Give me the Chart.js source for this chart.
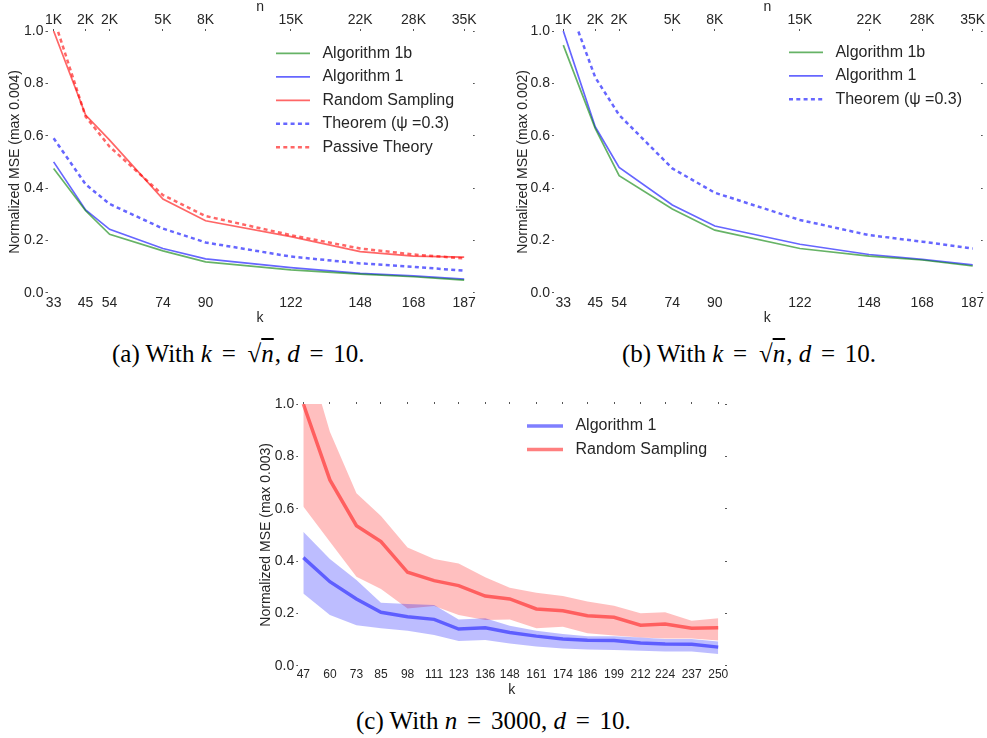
<!DOCTYPE html>
<html>
<head>
<meta charset="utf-8">
<script src="https://cdn.jsdelivr.net/npm/chart.js@4.4.1/dist/chart.umd.min.js"></script>
<style>
    body { margin: 0; background: #fff; }
    #fig { position: relative; width: 987px; height: 738px; overflow: hidden; background: #fff; }
    .box { position: absolute; }
    .cap { position: absolute; font-family: "Liberation Serif", "Times New Roman", serif; font-size: 25px; line-height: 25px; color: #000; white-space: nowrap; }
    .cap i { font-style: italic; }
    .cap .eq { margin: 0 3.5px; }
    .cap .sq { margin-left: 2px; }
    .cap .rad { text-decoration: overline; font-style: italic; padding-right: 1px; }
</style>
</head>
<body>
<div id="fig">
    <div class="box" style="left:0px;top:0px"><canvas id="chartA" width="490" height="330"></canvas></div>
    <div class="box" style="left:500px;top:0px"><canvas id="chartB" width="487" height="330"></canvas></div>
    <div class="box" style="left:240px;top:380px"><canvas id="chartC" width="500" height="320"></canvas></div>

    <div class="cap" style="left:112px;top:341px">(a) With <i>k</i> <span class="eq">=</span> <span class="sq">√</span><span class="rad">n</span>, <i>d</i> <span class="eq">=</span> 10.</div>
    <div class="cap" style="left:622px;top:341px">(b) With <i>k</i> <span class="eq">=</span> <span class="sq">√</span><span class="rad">n</span>, <i>d</i> <span class="eq">=</span> 10.</div>
    <div class="cap" style="left:356px;top:708px">(c) With <i>n</i> <span class="eq">=</span> 3000, <i>d</i> <span class="eq">=</span> 10.</div>
</div>

<script>
// k ticks / n labels shared by (a) and (b)
const kAB = [33, 45, 54, 74, 90, 122, 148, 168, 187];
const nLabels = ['1K', '2K', '2K', '5K', '8K', '15K', '22K', '28K', '35K'];

// (a) normalized MSE, max 0.004
const aAlg1b   = [0.475, 0.313, 0.223, 0.160, 0.118, 0.087, 0.071, 0.061, 0.048];
const aAlg1    = [0.500, 0.316, 0.242, 0.169, 0.129, 0.096, 0.074, 0.064, 0.052];
const aRandom  = [1.000, 0.679, 0.583, 0.358, 0.275, 0.214, 0.157, 0.140, 0.136];
const aTheorem = [0.590, 0.414, 0.339, 0.245, 0.192, 0.138, 0.112, 0.099, 0.084];
const aPassive = [1.050, 0.673, 0.558, 0.373, 0.293, 0.220, 0.169, 0.146, 0.131];

// (b) normalized MSE, max 0.002
const bAlg1b   = [0.946, 0.628, 0.447, 0.320, 0.239, 0.169, 0.140, 0.125, 0.102];
const bAlg1    = [1.000, 0.634, 0.479, 0.335, 0.255, 0.185, 0.146, 0.127, 0.106];
const bTheorem = [1.155, 0.823, 0.679, 0.475, 0.382, 0.278, 0.220, 0.195, 0.169];

// (c) n = 3000, mean with band
const kC = [47, 60, 73, 85, 98, 111, 123, 136, 148, 161, 174, 186, 199, 212, 224, 237, 250];
const cAlg1   = [0.413, 0.321, 0.255, 0.204, 0.187, 0.177, 0.140, 0.145, 0.127, 0.113, 0.102, 0.097, 0.096, 0.087, 0.083, 0.082, 0.071];
const cAlg1Hi = [0.512, 0.408, 0.327, 0.241, 0.236, 0.232, 0.177, 0.181, 0.153, 0.134, 0.121, 0.113, 0.113, 0.108, 0.102, 0.102, 0.092];
const cAlg1Lo = [0.276, 0.194, 0.155, 0.143, 0.134, 0.117, 0.094, 0.098, 0.085, 0.073, 0.066, 0.062, 0.060, 0.057, 0.054, 0.054, 0.045];
const cRand   = [1.000, 0.710, 0.535, 0.474, 0.357, 0.325, 0.306, 0.266, 0.255, 0.217, 0.210, 0.191, 0.185, 0.155, 0.159, 0.143, 0.145];
const cRandHi = [1.240, 0.894, 0.659, 0.572, 0.452, 0.408, 0.391, 0.338, 0.298, 0.279, 0.266, 0.245, 0.229, 0.200, 0.204, 0.172, 0.181];
const cRandLo = [0.608, 0.474, 0.340, 0.293, 0.219, 0.228, 0.194, 0.175, 0.177, 0.143, 0.149, 0.124, 0.115, 0.108, 0.104, 0.104, 0.096];

const GREEN = 'rgba(0,128,0,0.6)';
const BLUE = 'rgba(0,0,255,0.6)';
const RED = 'rgba(255,0,0,0.6)';
const TXT = '#262626';

Chart.defaults.font.family = '"Liberation Sans", Arial, sans-serif';
Chart.defaults.color = TXT;

const pts = (xs, ys) => xs.map((x, i) => ({ x: x, y: ys[i] }));

function line(label, xs, ys, color, width, dash) {
    return {
        label: label, data: pts(xs, ys), borderColor: color, backgroundColor: color,
        borderWidth: width, borderDash: dash || [], pointRadius: 0, tension: 0, fill: false
    };
}

function band(xs, ys, fillColor, fill) {
    return {
        band: true, label: '', data: pts(xs, ys), borderColor: 'rgba(0,0,0,0)', borderWidth: 0,
        backgroundColor: fillColor, pointRadius: 0, tension: 0, fill: fill
    };
}

// legend is laid out in the chart area, then moved to its place
const legendPos = {
    id: 'legendPos',
    afterLayout(chart, args, opts) {
        const lg = chart.legend;
        if (!lg || opts.x === undefined) return;
        lg.left = opts.x;
        lg.top = opts.y;
        lg.right = lg.left + lg.width;
        lg.bottom = lg.top + lg.height;
    }
};

const fixed = size => scale => {
    if (scale.isHorizontal()) scale.height = size; else scale.width = size;
};
const setTicks = values => scale => { scale.ticks = values.map(v => ({ value: v })); };
const dots = { drawOnChartArea: false, tickLength: 2, tickWidth: 1, tickColor: '#555' };

function panelOptions(p) {
    const scales = {
        x: {
            type: 'linear', position: 'bottom', min: p.xMin, max: p.xMax,
            afterBuildTicks: setTicks(p.ticks), afterFit: fixed(p.bottom),
            grid: { display: false, drawTicks: false }, border: { display: false },
            ticks: { autoSkip: false, maxRotation: 0, minRotation: 0, padding: p.xPad, font: { size: p.xFont } },
            title: { display: true, text: 'k', font: { size: 14, lineHeight: 1 }, padding: { top: 0, bottom: p.kPad } }
        },
        xTop: {
            type: 'linear', position: 'top', min: p.xMin, max: p.xMax,
            afterBuildTicks: setTicks(p.ticks), afterFit: fixed(p.top),
            grid: dots, border: { display: false },
            ticks: {
                display: !!p.topLabels, autoSkip: false, maxRotation: 0, padding: 0, font: { size: 14 },
                callback: (v, i) => p.topLabels ? p.topLabels[i] : ''
            },
            title: { display: !!p.topLabels, text: 'n', font: { size: 14, lineHeight: 1 }, padding: { top: 0.5, bottom: 0 } }
        },
        y: {
            type: 'linear', position: 'left', min: 0, max: 1,
            afterFit: fixed(p.left),
            grid: dots, border: { display: false },
            ticks: { stepSize: 0.2, padding: 2, font: { size: 14 }, callback: v => v.toFixed(1) },
            title: { display: true, text: p.yTitle, font: { size: 14, lineHeight: 1 }, padding: { top: p.yPad, bottom: 0 } }
        },
        yRight: {
            type: 'linear', position: 'right', min: 0, max: 1,
            afterFit: fixed(p.right),
            grid: dots, border: { display: false },
            ticks: { stepSize: 0.2, display: false }
        }
    };
    return {
        responsive: false,
        animation: false,
        layout: { padding: 0 },
        scales: scales,
        plugins: {
            tooltip: { enabled: false },
            legendPos: { x: p.legendX, y: p.legendY },
            legend: {
                position: 'chartArea',
                align: 'start',
                labels: {
                    usePointStyle: true, pointStyleWidth: p.legendLine, boxHeight: 16,
                    padding: 7.5, color: TXT, font: { size: 16 },
                    generateLabels: chart => chart.data.datasets
                        .map((ds, i) => ({
                            text: ' ' + ds.label, datasetIndex: i, hidden: false, fontColor: TXT,
                            strokeStyle: ds.borderColor, fillStyle: ds.borderColor,
                            lineWidth: ds.borderWidth, lineDash: ds.borderDash, pointStyle: 'line'
                        }))
                        .filter(item => !chart.data.datasets[item.datasetIndex].band)
                }
            }
        }
    };
}

function init() {
    new Chart(document.getElementById('chartA'), {
        type: 'line',
        data: {
            datasets: [
                line('Algorithm 1b', kAB, aAlg1b, GREEN, 1.7),
                line('Algorithm 1', kAB, aAlg1, BLUE, 1.7),
                line('Random Sampling', kAB, aRandom, RED, 1.7),
                line('Theorem (ψ =0.3)', kAB, aTheorem, BLUE, 2.5, [4, 3.3]),
                line('Passive Theory', kAB, aPassive, RED, 2.5, [4, 3.3])
            ]
        },
        options: panelOptions({
            xMin: 30.7, xMax: 190.2, ticks: kAB, topLabels: nLabels,
            left: 47.5, right: 17.3, top: 31, bottom: 37.3,
            xPad: 2, xFont: 14, kPad: 4.5, yPad: 8.5,
            yTitle: 'Normalized MSE (max 0.004)',
            legendX: 268.5, legendY: 37.8, legendLine: 34
        }),
        plugins: [legendPos]
    });

    new Chart(document.getElementById('chartB'), {
        type: 'line',
        data: {
            datasets: [
                line('Algorithm 1b', kAB, bAlg1b, GREEN, 1.7),
                line('Algorithm 1', kAB, bAlg1, BLUE, 1.7),
                line('Theorem (ψ =0.3)', kAB, bTheorem, BLUE, 2.5, [4, 3.3])
            ]
        },
        options: panelOptions({
            xMin: 29.5, xMax: 190, ticks: kAB, topLabels: nLabels,
            left: 54, right: 6.3, top: 31, bottom: 37.3,
            xPad: 2, xFont: 14, kPad: 4.5, yPad: 16.5,
            yTitle: 'Normalized MSE (max 0.002)',
            legendX: 281.5, legendY: 36.8, legendLine: 34
        }),
        plugins: [legendPos]
    });

    new Chart(document.getElementById('chartC'), {
        type: 'line',
        data: {
            datasets: [
                line('Algorithm 1', kC, cAlg1, 'rgba(0,0,255,0.5)', 3.5),
                line('Random Sampling', kC, cRand, 'rgba(255,0,0,0.5)', 3.5),
                band(kC, cAlg1Hi, 'rgba(0,0,255,0.26)', '+1'),
                band(kC, cAlg1Lo, 'rgba(0,0,255,0.26)', false),
                band(kC, cRandHi, 'rgba(255,0,0,0.25)', '+1'),
                band(kC, cRandLo, 'rgba(255,0,0,0.25)', false)
            ]
        },
        options: panelOptions({
            xMin: 44.55, xMax: 253.3, ticks: kC, topLabels: null,
            left: 58.3, right: 15, top: 24, bottom: 34.3,
            xPad: 2, xFont: 12, kPad: 3, yPad: 19,
            yTitle: 'Normalized MSE (max 0.003)',
            legendX: 279.5, legendY: 30.5, legendLine: 36
        }),
        plugins: [legendPos]
    });
}

document.addEventListener('DOMContentLoaded', () => {
    init();
});
</script>
</body>
</html>
